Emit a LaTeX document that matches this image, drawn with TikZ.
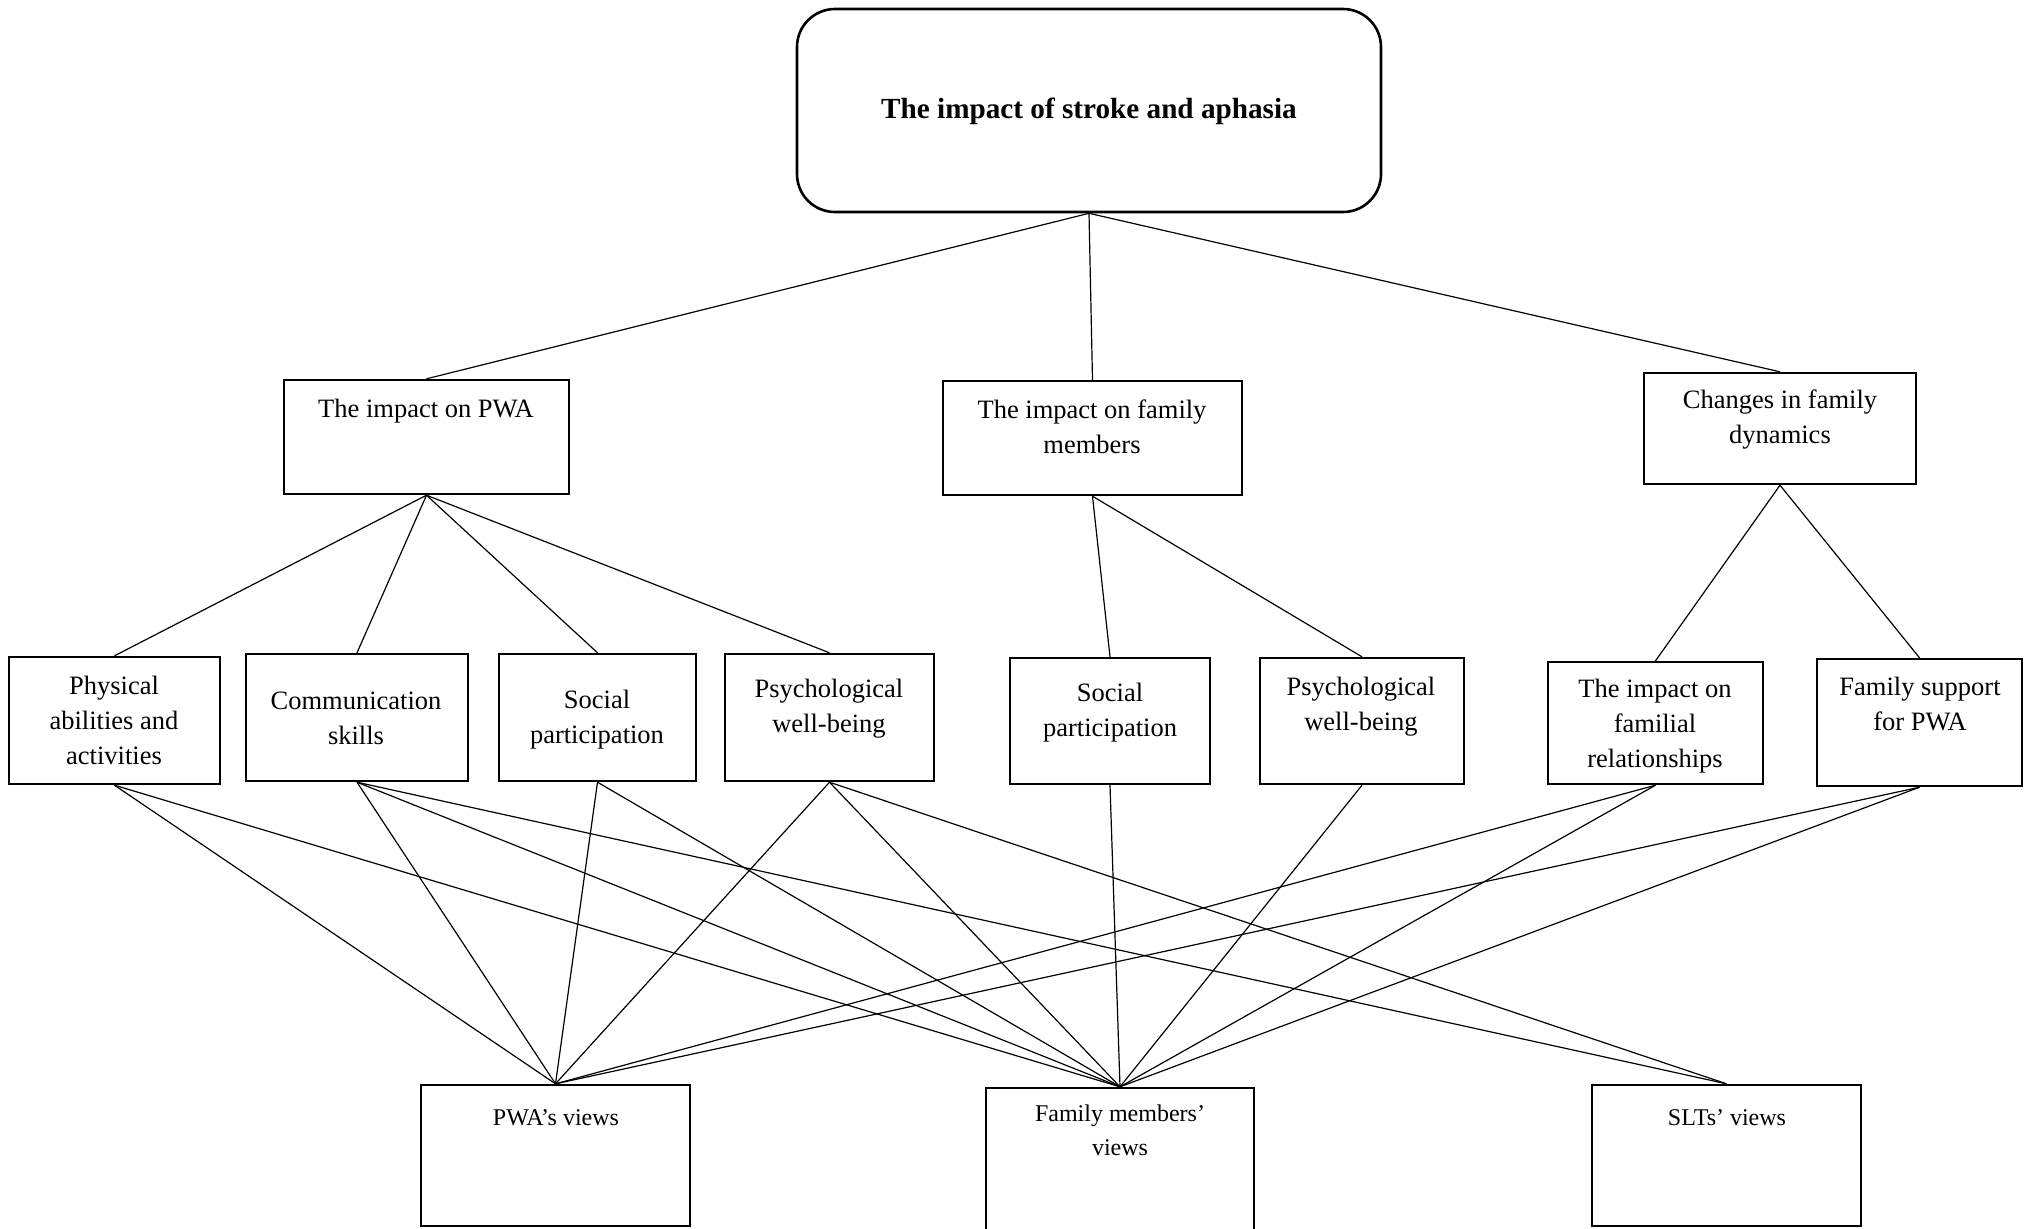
\documentclass[tikz,border=0pt]{standalone}
\usepackage{fontspec}
\setmainfont{Liberation Serif}
\usetikzlibrary{fit}
\begin{document}
\begin{tikzpicture}[x=0.5pt,y=-0.5pt,
  box/.style={draw, line width=1.2pt, inner sep=0pt},
  rootbox/.style={box, rounded corners=19pt, line width=1.3pt},
  lbl/.style={align=center, inner sep=0pt, font=\fontsize{13.25}{17.5}\selectfont},
  viewlbl/.style={align=center, inner sep=0pt, font=\fontsize{12}{16.8}\selectfont},
  link/.style={line width=0.6pt}]
\useasboundingbox (0,0) rectangle (2031,1228);

% root
\node[rootbox, fit={(797,9) (1381,212)}] (root) {};
\node[lbl, font=\fontsize{14.6}{17.5}\selectfont\bfseries] (root-t) at (1089,111) {The impact of stroke and aphasia};

% themes
\node[box, fit={(284,380) (569,494)}] (pwa) {};
\node[lbl] (pwa-t) at (426,411) {The impact on PWA};
\node[box, fit={(943,381) (1242,495)}] (fam) {};
\node[lbl] (fam-t) at (1092,427) {The impact on family\\members};
\node[box, fit={(1644,373) (1916,484)}] (chg) {};
\node[lbl] (chg-t) at (1780,420) {Changes in family\\dynamics};

% sub-themes
\node[box, fit={(9,657) (220,784)}] (phys) {};
\node[lbl] (phys-t) at (114,720) {Physical\\abilities and\\activities};
\node[box, fit={(246,654) (468,781)}] (comm) {};
\node[lbl] (comm-t) at (356,718) {Communication\\skills};
\node[box, fit={(499,654) (696,781)}] (socA) {};
\node[lbl] (socA-t) at (597,720) {Social\\participation};
\node[box, fit={(725,654) (934,781)}] (psyA) {};
\node[lbl] (psyA-t) at (829,709) {Psychological\\well-being};
\node[box, fit={(1010,658) (1210,784)}] (socB) {};
\node[lbl] (socB-t) at (1110,713) {Social\\participation};
\node[box, fit={(1260,658) (1464,784)}] (psyB) {};
\node[lbl] (psyB-t) at (1361,707) {Psychological\\well-being};
\node[box, fit={(1548,662) (1763,784)}] (rel) {};
\node[lbl] (rel-t) at (1655,726) {The impact on\\familial\\relationships};
\node[box, fit={(1817,659) (2022,786)}] (sup) {};
\node[lbl] (sup-t) at (1920,704) {Family support\\for PWA};

% perspectives
\node[box, fit={(421,1085) (690,1226)}] (vpwa) {};
\node[viewlbl] (vpwa-t) at (556,1118) {PWA’s views};
\node[box, fit={(986,1088) (1254,1232)}] (vfam) {};
\node[viewlbl] (vfam-t) at (1120,1130) {Family members’\\views};
\node[box, fit={(1592,1085) (1861,1226)}] (vslt) {};
\node[viewlbl] (vslt-t) at (1727,1118) {SLTs’ views};

% root to themes
\draw[link] (root.south) -- (pwa.north);
\draw[link] (root.south) -- (fam.north);
\draw[link] (root.south) -- (chg.north);

% themes to sub-themes
\foreach \s in {phys,comm,socA,psyA} \draw[link] (pwa.south) -- (\s.north);
\foreach \s in {socB,psyB} \draw[link] (fam.south) -- (\s.north);
\foreach \s in {rel,sup} \draw[link] (chg.south) -- (\s.north);

% sub-themes to perspectives
\foreach \s in {phys,comm,socA,psyA,rel,sup} \draw[link] (\s.south) -- (vpwa.north);
\foreach \s in {phys,comm,socA,psyA,socB,psyB,rel,sup} \draw[link] (\s.south) -- (vfam.north);
\foreach \s in {comm,psyA} \draw[link] (\s.south) -- (vslt.north);
\end{tikzpicture}
\end{document}
